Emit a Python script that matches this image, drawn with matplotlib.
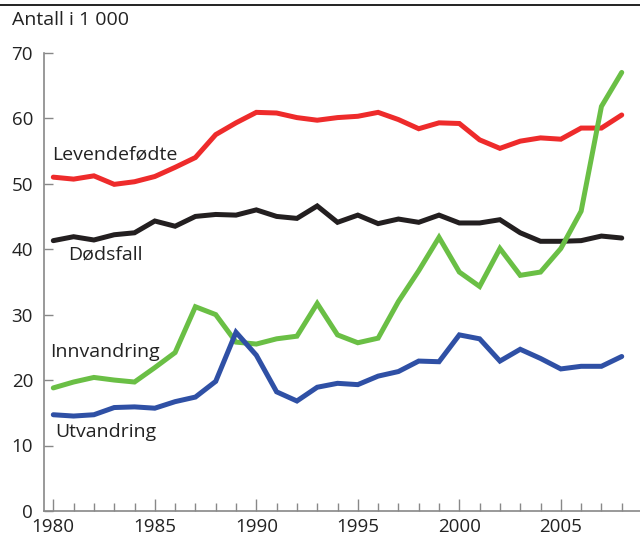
import matplotlib
matplotlib.use("Agg")
import matplotlib.pyplot as plt
from matplotlib.ticker import MultipleLocator

plt.rcParams['font.family'] = ['Open Sans', 'DejaVu Sans']

# Data, in 1 000
years = list(range(1980, 2009))
levendefodte = [51.0, 50.7, 51.2, 49.9, 50.3, 51.1, 52.5, 54.0, 57.5, 59.3,
                60.9, 60.8, 60.1, 59.7, 60.1, 60.3, 60.9, 59.8, 58.4, 59.3,
                59.2, 56.7, 55.4, 56.5, 57.0, 56.8, 58.5, 58.5, 60.5]
dodsfall = [41.3, 41.9, 41.4, 42.2, 42.5, 44.3, 43.5, 45.0, 45.3, 45.2,
            46.0, 45.0, 44.7, 46.6, 44.1, 45.2, 43.9, 44.6, 44.1, 45.2,
            44.0, 44.0, 44.5, 42.5, 41.2, 41.2, 41.3, 42.0, 41.7]
innvandring = [18.8, 19.7, 20.4, 20.0, 19.7, 21.9, 24.2, 31.2, 30.0, 25.8,
               25.5, 26.3, 26.7, 31.7, 26.9, 25.7, 26.4, 32.0, 36.7, 41.8,
               36.5, 34.3, 40.1, 36.0, 36.5, 40.1, 45.8, 61.8, 67.0]
utvandring = [14.7, 14.5, 14.7, 15.8, 15.9, 15.7, 16.7, 17.4, 19.8, 27.3,
              23.8, 18.2, 16.8, 18.9, 19.5, 19.3, 20.6, 21.3, 22.9, 22.8,
              26.9, 26.3, 22.9, 24.7, 23.3, 21.7, 22.1, 22.1, 23.6]

series_names = ["Levendefødte", "Dødsfall", "Innvandring", "Utvandring"]
series_values = [levendefodte, dodsfall, innvandring, utvandring]
colors = ["#ee2b2b", "#231f20", "#6abf45", "#2f50a5"]
label_pos = [(1979.95, 54.4), (1980.75, 39.1), (1979.85, 24.3), (1980.1, 12.1)]

fig = plt.figure(figsize=(6.4, 5.5), dpi=100)
ax = fig.add_axes([0.069, 0.071, 0.931, 0.833])

for name, vals, col, (lx, ly) in zip(series_names, series_values, colors, label_pos):
    ax.plot(years, vals, color=col, lw=3.6, solid_capstyle='round',
            solid_joinstyle='miter')
    ax.text(lx, ly, name, fontsize=14, color='#222222', va='center', ha='left')

ax.set_xlim(1979.55, 2008.9)
ax.set_ylim(0, 70)
ax.set_yticks(range(0, 71, 10))
ax.set_xticks(range(1980, 2006, 5))
ax.xaxis.set_minor_locator(MultipleLocator(1))

for side in ['top', 'right']:
    ax.spines[side].set_visible(False)
for side in ['left', 'bottom']:
    ax.spines[side].set_color('#888888')
    ax.spines[side].set_linewidth(1.2)

ax.tick_params(axis='y', direction='in', length=6.5, width=1.0, color='#888888',
               labelsize=13.5, labelcolor='#222222', pad=8)
ax.tick_params(axis='x', which='major', direction='in', length=8.5, width=1.0,
               color='#888888', labelsize=13.5, labelcolor='#222222', pad=5)
ax.tick_params(axis='x', which='minor', direction='in', length=5.5, width=1.0,
               color='#888888')

fig.text(12 / 640, 1 - 20 / 550, "Antall i 1 000", fontsize=14, color='#222222',
         va='center', ha='left')
fig.add_artist(plt.Line2D([0, 1], [1 - 4.5 / 550, 1 - 4.5 / 550], color='#111111',
                          lw=1.3, transform=fig.transFigure))

fig.savefig("out.png", dpi=100)
